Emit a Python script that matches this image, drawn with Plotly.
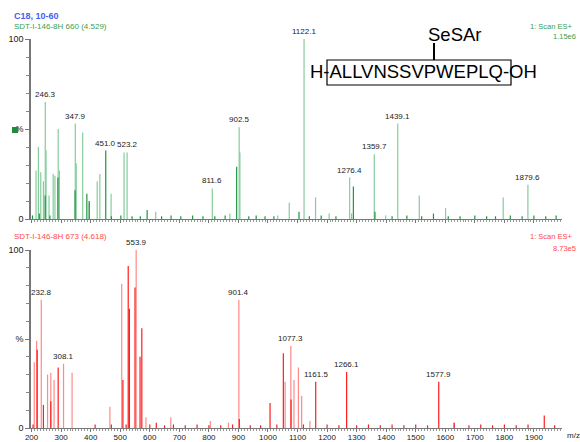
"""Stacked ESI mass spectra (two scans) with peak labels."""

import plotly.graph_objects as go

# ---- data -------------------------------------------------------------
# top scan (SDT-I-146-8H 660), relative intensity %
top_mz = [215, 223, 231, 240, 246.3, 249, 259, 273, 279, 290,
          294, 347.9, 351, 373, 395, 422, 431, 469, 513, 523.2,
          620, 811.6, 871, 902.5, 905, 1033, 1072, 1122.1, 1161, 1207,
          1276.4, 1283, 1359.7, 1398, 1439.1, 1512, 1601, 1796, 1879.6]
top_int = [27, 40, 26, 21, 65, 38, 13, 25, 24, 50,
           27, 53, 31, 48, 9, 21, 25, 14, 37, 37,
           4, 17, 3, 51, 37, 2, 9, 100, 12, 3,
           23, 3, 36, 2, 53, 13, 6, 12, 19]
top_dark_mz = [203, 226, 246, 262, 289, 347, 387, 395, 451.0, 470,
               502, 540, 568, 591, 640, 672, 705, 745, 780, 820,
               855, 894, 935, 960, 990, 1020, 1105, 1140, 1180, 1230,
               1289, 1362, 1420, 1470, 1520, 1560, 1610, 1650, 1700, 1740,
               1770, 1820, 1860, 1900, 1940, 1975]
top_dark_int = [2, 3, 13, 2, 23, 16, 14, 10, 38, 1.5,
                2, 1.5, 1.5, 5, 1.5, 2, 1.5, 2, 1.5, 1.5,
                2, 29, 1.5, 2, 1.5, 1.5, 4, 1.5, 2, 1.5,
                18, 4, 1.5, 2, 1.5, 3, 1.5, 1.5, 2, 1.5,
                1.5, 2, 1.5, 2, 1.5, 2]
top_labels = [246.3, 347.9, 451.0, 523.2, 811.6, 902.5, 1122.1, 1276.4, 1359.7, 1439.1, 1879.6]
top_label_int = [65, 53, 38, 37, 17, 51, 100, 23, 36, 53, 19]

# bottom scan (SDT-I-146-8H 673)
bot_mz = [209, 217, 232.8, 254, 265, 276, 308.1, 337, 465, 505,
          553.9, 587, 671, 805, 866, 901.4, 1058, 1077.3, 1088, 1103,
          1114, 1142, 1630]
bot_int = [37, 49, 72, 30, 31, 27, 36, 31, 12, 81,
           100, 6, 6, 4, 3, 72, 26, 46, 27, 34,
           18, 4, 3]
bot_dark_mz = [205, 219, 240, 265, 290, 415, 470, 509, 520, 527,
               531, 550, 567, 573, 600, 622, 650, 680, 720, 760,
               800, 840, 880, 903, 940, 975, 1007, 1030, 1052, 1078,
               1120, 1161.5, 1200, 1240, 1266.1, 1300, 1340, 1380, 1420, 1460,
               1500, 1540, 1577.9, 1630, 1680, 1720, 1760, 1800, 1840, 1880,
               1935, 1970]
bot_dark_int = [2, 44, 13, 15, 34, 2, 2, 27, 2, 91,
                67, 79, 40, 56, 2, 3, 1.5, 2, 1.5, 2,
                1.5, 1.5, 2, 5, 1.5, 1.5, 14, 2, 42, 16,
                2, 26, 2, 1.5, 31.5, 1.5, 2, 1.5, 2, 1.5,
                2, 1.5, 26, 3, 1.5, 2, 1.5, 2, 1.5, 2,
                7, 1.5]
bot_labels = [232.8, 308.1, 553.9, 901.4, 1077.3, 1161.5, 1266.1, 1577.9]
bot_label_int = [72, 36, 100, 72, 46, 26, 31.5, 26]

GREEN_LIGHT = "#86cc9c"
GREEN_DARK = "#1f9440"
RED_LIGHT = "#ff8a8a"
RED_DARK = "#ff1c1c"

W, H = 580, 442
L, R, T, B = 31, 18, 39, 14


def px(x):
    return (x - L) / (W - L - R)


def py(y):
    return (H - B - y) / (H - T - B)


def sticks(mz, inten):
    xs, ys = [], []
    for m, v in zip(mz, inten):
        xs += [m, m, None]
        ys += [0, v, None]
    return xs, ys


fig = go.Figure()
for mz, inten, col, ax in [
    (top_mz, top_int, GREEN_LIGHT, ""),
    (top_dark_mz, top_dark_int, GREEN_DARK, ""),
    (bot_mz, bot_int, RED_LIGHT, "2"),
    (bot_dark_mz, bot_dark_int, RED_DARK, "2"),
]:
    xs, ys = sticks(mz, inten)
    fig.add_trace(go.Scatter(
        x=xs, y=ys, mode="lines", line=dict(color=col, width=1.2),
        xaxis="x" + ax, yaxis="y" + ax, hoverinfo="skip", showlegend=False,
    ))

ann = []
for m, v in zip(top_labels, top_label_int):
    ann.append(dict(x=m, y=v, xref="x", yref="y", text=f"{m:.1f}", showarrow=False,
                    yanchor="bottom", yshift=1, font=dict(size=8, color="#222")))
for m, v in zip(bot_labels, bot_label_int):
    ann.append(dict(x=m, y=v, xref="x2", yref="y2", text=f"{m:.1f}", showarrow=False,
                    yanchor="bottom", yshift=1, font=dict(size=8, color="#222")))


def txt(x, y, s, size, color, anchor="left", bold=False):
    ann.append(dict(x=px(x), y=py(y), xref="paper", yref="paper", showarrow=False,
                    text=f"<b>{s}</b>" if bold else s, xanchor=anchor, yanchor="middle",
                    font=dict(size=size, color=color)))


txt(12, 16, "C18, 10-60", 9, "#4a5cf2", bold=True)
txt(12, 27, "SDT-I-146-8H 660 (4.529)", 8, "#3aa050")
txt(575, 27, "1: Scan ES+", 7.5, "#3aa050", "right")
txt(578, 36, "1.15e6", 7.5, "#3aa050", "right")
txt(12, 237, "SDT-I-146-8H 673 (4.618)", 8, "#ff4a4a")
txt(575, 237, "1: Scan ES+", 7.5, "#ff4a4a", "right")
txt(578, 248, "8.73e5", 7.5, "#ff4a4a", "right")
txt(565, 435, "m/z", 8, "#222")
txt(454, 35, "SeSAr", 18.5, "#000", "center")
txt(423, 72, "H-ALLVNSSVPWEPLQ-OH", 18.5, "#000", "center")

shapes = [
    dict(type="rect", xref="paper", yref="paper", x0=px(327), x1=px(511), y0=py(85), y1=py(60),
         line=dict(color="#000", width=1.2)),
    dict(type="line", xref="paper", yref="paper", x0=px(434), x1=px(434), y0=py(60), y1=py(43),
         line=dict(color="#000", width=2)),
    dict(type="rect", xref="paper", yref="paper", x0=px(12), x1=px(18), y0=py(133), y1=py(127),
         fillcolor="#1e8c3a", line=dict(width=0)),
]

xcommon = dict(range=[198, 1995], dtick=100, tick0=0, ticks="outside", ticklen=3,
               tickcolor="#777", showline=True, linecolor="#777", linewidth=1.2,
               showgrid=False, zeroline=False, automargin=False, ticklabelstandoff=-2,
               minor=dict(dtick=10, ticks="outside", ticklen=2, tickcolor="#999"),
               tickfont=dict(size=8, color="#222"))
ycommon = dict(range=[0, 100], tickvals=[0, 50, 100], ticktext=["0", "%", "100"],
               ticks="outside", ticklen=4, tickcolor="#777", showline=True,
               linecolor="#777", linewidth=1.5, showgrid=False, zeroline=False,
               automargin=False,
               minor=dict(dtick=10, ticks="outside", ticklen=3, tickcolor="#888"),
               tickfont=dict(size=9, color="#222"))

fig.update_layout(
    width=W, height=H,
    margin=dict(l=L, r=R, t=T, b=B),
    paper_bgcolor="white", plot_bgcolor="white",
    font=dict(family="Liberation Sans, Arial, sans-serif"),
    xaxis=dict(xcommon, anchor="y", showticklabels=False),
    yaxis=dict(ycommon, domain=[py(219), 1]),
    xaxis2=dict(xcommon, anchor="y2"),
    yaxis2=dict(ycommon, domain=[0, py(250)]),
    annotations=ann,
    shapes=shapes,
)

# page has a default body margin; drop it so the figure sits at the window origin
fig.write_html("out.html", config={"displayModeBar": False},
               post_script="document.body.style.margin='0';")
